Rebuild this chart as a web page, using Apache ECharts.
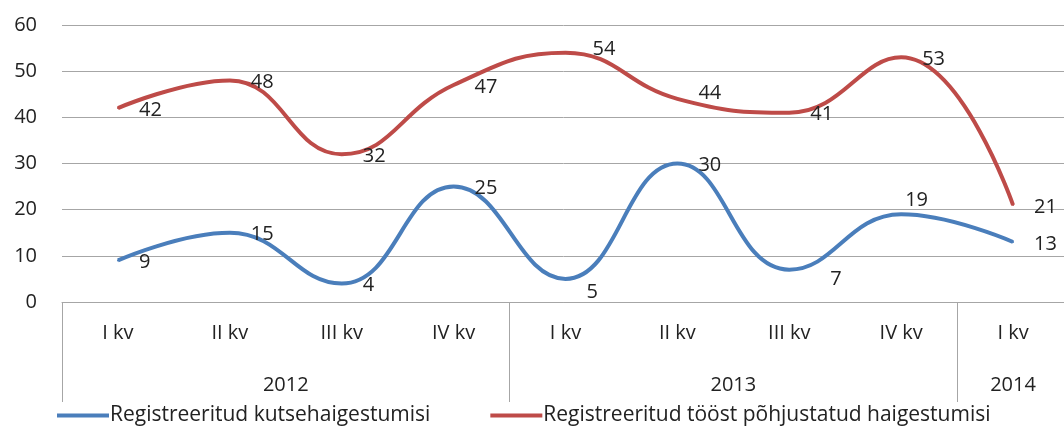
<!DOCTYPE html>
<html>
<head>
<meta charset="utf-8">
<script src="https://cdn.jsdelivr.net/npm/echarts@6/dist/echarts.min.js"></script>
<style>
  html, body { margin: 0; padding: 0; background: #fff; }
  #chart { width: 1064px; height: 431px; }
</style>
</head>
<body>
<div id="chart"></div>
<script>
// quarters along the x axis, grouped by year underneath
const quarters = ["I kv", "II kv", "III kv", "IV kv", "I kv", "II kv", "III kv", "IV kv", "I kv"];
const years = ["2012", "2013", "2014"];
const yearSpans = [4, 4, 1];

const occupational = [9, 15, 4, 25, 5, 30, 7, 19, 13];
const workRelated = [42, 48, 32, 47, 54, 44, 41, 53, 21];

const seriesNames = [
    "Registreeritud kutsehaigestumisi",
    "Registreeritud tööst põhjustatud haigestumisi",
];
const colors = ["#4a7ebb", "#be4b48"];

// a few labels were nudged by hand in the original
const blueNudge = { 4: [0, 11], 6: [20, 8], 7: [-17, -16] };
const redNudge = { 4: [6, -5], 5: [0, -8] };

const font = "'Open Sans', sans-serif";
const fs = 20;
const gray = "#a6a6a6";
const ink = "#222";

// year boundaries (in category units) and label centres
const yearStarts = [];
const yearCenters = {};
let acc = 0;
yearSpans.forEach((n, i) => {
    yearStarts.push(acc);
    yearCenters[acc + n / 2] = years[i];
    acc += n;
});

const labelStyle = { fontSize: fs, color: ink, fontFamily: font };

function lineSeries(name, values, color, nudge) {
    return {
        name,
        type: "line",
        data: values.map((v, i) => {
            const off = nudge[i] || [0, 0];
            return { value: v, label: { offset: [off[0], off[1] + 2] } };
        }),
        smooth: 0.45,
        symbol: "circle",
        symbolSize: 2,
        showSymbol: true,
        lineStyle: { color, width: 4 },
        itemStyle: { color },
        label: { show: true, position: "right", distance: 20, ...labelStyle },
    };
}

const chart = echarts.init(document.getElementById("chart"));
chart.setOption({
    animation: false,
    textStyle: { fontFamily: font },
    grid: { left: 62, width: 1007, top: 25, height: 277, outerBoundsMode: "none" },
    legend: {
        bottom: 0,
        left: 52,
        icon: "rect",
        itemWidth: 52,
        itemHeight: 4,
        itemGap: 60,
        textStyle: { ...labelStyle, fontSize: 21, padding: [0, 0, 0, -4] },
        data: seriesNames,
    },
    xAxis: [
        {
            type: "category",
            data: quarters,
            boundaryGap: true,
            axisLine: { lineStyle: { color: gray, width: 1 } },
            axisTick: {
                show: true,
                length: 100,
                interval: (index) => yearStarts.includes(index),
                lineStyle: { color: gray, width: 1 },
            },
            axisLabel: { ...labelStyle, margin: 21, interval: 0 },
        },
        {
            type: "value",
            position: "bottom",
            offset: 0,
            min: 0,
            max: acc,
            interval: 0.5,
            axisLine: { show: false },
            axisTick: { show: false },
            splitLine: { show: false },
            axisLabel: {
                ...labelStyle,
                margin: 73,
                showMinLabel: false,
                showMaxLabel: false,
                formatter: (v) => yearCenters[v] || "",
            },
        },
    ],
    yAxis: {
        type: "value",
        min: 0,
        max: 60,
        interval: 10,
        axisLine: { show: false },
        axisTick: { show: false },
        splitLine: { lineStyle: { color: gray, width: 1 } },
        axisLabel: { ...labelStyle, margin: 25 },
    },
    series: [
        lineSeries(seriesNames[0], occupational, colors[0], blueNudge),
        lineSeries(seriesNames[1], workRelated, colors[1], redNudge),
    ],
});
</script>
</body>
</html>
